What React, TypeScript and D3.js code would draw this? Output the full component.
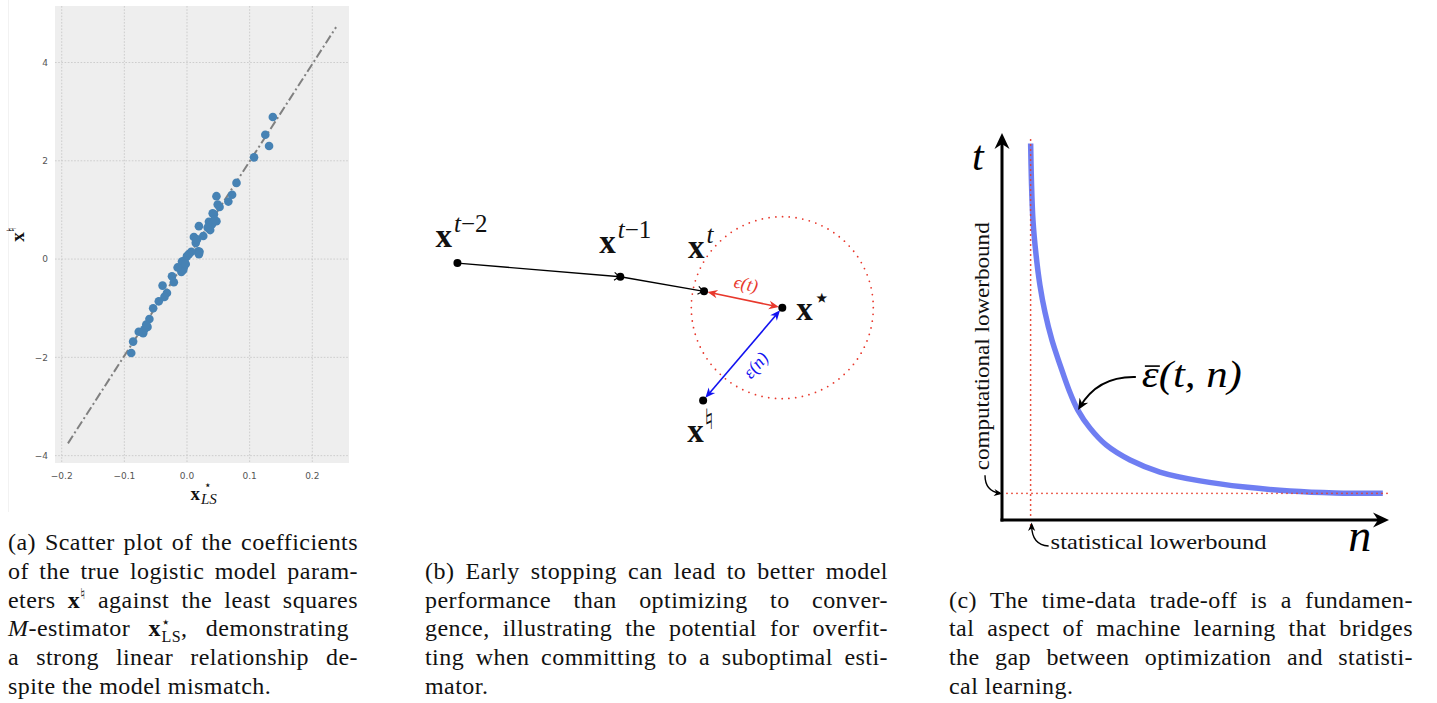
import * as React from "react";
import * as d3 from "d3";

const W = 1437;
const H = 703;
const SERIF = "Liberation Serif";
const SANS = "DejaVu Sans";

// (a) least squares M-estimator coefficient vs true logistic coefficient
const lsCoef = [0.137, 0.125, 0.131, 0.107, 0.079, 0.072, 0.066, 0.047, 0.049, 0.052, 0.043, 0.041, 0.047, 0.035, 0.040, 0.037, 0.019, 0.026, 0.011, 0.014, 0.020, 0.018, 0.019, 0.007, 0.003, 0.000, -0.004, -0.008, -0.005, -0.006, -0.009, -0.015, -0.024, -0.021, -0.039, -0.032, -0.036, -0.045, -0.054, -0.060, -0.063, -0.068, -0.070, -0.077, -0.086, -0.089, 0.033, 0.044, -0.002, -0.065, 0.016];
const trueCoef = [2.89, 2.53, 2.30, 2.07, 1.55, 1.31, 1.17, 1.28, 1.11, 1.06, 0.91, 0.93, 0.77, 0.76, 0.71, 0.59, 0.67, 0.47, 0.45, 0.33, 0.15, 0.16, 0.10, 0.15, 0.10, 0.06, -0.03, -0.05, -0.16, -0.22, -0.26, -0.17, -0.35, -0.47, -0.54, -0.69, -0.77, -0.86, -1.00, -1.22, -1.38, -1.43, -1.51, -1.48, -1.68, -1.91, 0.64, 0.80, -0.10, -1.33, 0.40];
const fitX = [-0.19, 0.238];
const fitY = [-3.75, 4.72];
const xTicksA = [-0.2, -0.1, 0, 0.1, 0.2];
const yTicksA = [-4, -2, 0, 2, 4];

// (b) iterates, in units of the ball radius around x*
const iterSup = ["t−2", "t−1", "t"];
const iterX = [-3.57, -1.78, -0.86];
const iterY = [0.49, 0.34, 0.18];
const naturalPt = [-0.87, -1.02];
const starPt = [0, 0];
const ballRadius = 1;

// (c) time-data trade-off curve
const curveN = [7.4, 7.6, 8.0, 8.8, 9.8, 11.1, 12.9, 15.0, 17.3, 19.6, 22.7, 26.9, 33.1, 40.8, 51.2, 62.8, 74.4, 86.0, 98.4];
const curveT = [97.3, 87.9, 77.5, 68.5, 60.7, 53.7, 46.5, 40.1, 33.6, 28.4, 23.8, 19.4, 15.5, 12.4, 10.1, 8.5, 7.5, 7.0, 6.9];
const statBound = 7.4;
const compBound = 6.9;

type Seg = string | { t: string; w?: "b" | "i"; sh?: number; fs?: number; dx?: number };

const captionA: Seg[][] = [
  ["(a) Scatter plot of the coefficients"],
  ["of the true logistic model param-"],
  ["eters ", { t: "x", w: "b" }, { t: "♮", sh: -9, fs: 15 }, " against the least squares"],
  [{ t: "M", w: "i" }, "-estimator ", { t: "x", w: "b" }, { t: "⋆", sh: -9, fs: 15 }, { t: "LS", sh: 6, fs: 16, dx: -9 }, ", demonstrating"],
  ["a strong linear relationship de-"],
  ["spite the model mismatch."],
];
const captionB: Seg[][] = [
  ["(b) Early stopping can lead to better model"],
  ["performance than optimizing to conver-"],
  ["gence, illustrating the potential for overfit-"],
  ["ting when committing to a suboptimal esti-"],
  ["mator."],
];
const captionC: Seg[][] = [
  ["(c) The time-data trade-off is a fundamen-"],
  ["tal aspect of machine learning that bridges"],
  ["the gap between optimization and statisti-"],
  ["cal learning."],
];

const MathText = React.forwardRef(({ segs, x, y, fs, fill = "#111", family = SERIF, anchor, ls }: any, ref: any) => {
  let cur = 0;
  return (
    <text ref={ref} x={x} y={y} fontSize={fs} fontFamily={family} fill={fill} textAnchor={anchor} letterSpacing={ls} style={{ whiteSpace: "pre" }}>
      {segs.map((s: Seg, i: number) => {
        const o: any = typeof s === "string" ? { t: s } : s;
        const sh = o.sh ?? 0;
        const dy = sh - cur;
        cur = sh;
        return (
          <tspan key={i} dy={dy || undefined} dx={o.dx} fontSize={o.fs}
            fontWeight={o.w === "b" ? "bold" : undefined}
            fontStyle={o.w === "i" ? "italic" : undefined}>{o.t}</tspan>
        );
      })}
    </text>
  );
});

// justified caption: small letter spacing, remaining slack goes to the word gaps
const Caption = ({ lines, x, width, lastBase }: any) => {
  const lh = 28.8;
  const y0 = lastBase - (lines.length - 1) * lh;
  const refs = React.useRef<any[]>([]);
  React.useLayoutEffect(() => {
    refs.current.forEach((el, i) => {
      if (!el || i === lines.length - 1) return;
      el.setAttribute("word-spacing", "0");
      const nat = el.getComputedTextLength();
      const nSp = (el.textContent.match(/ /g) || []).length;
      if (nSp > 0 && nat < width) el.setAttribute("word-spacing", String((width - nat) / nSp));
    });
  }, []);
  return (
    <g>
      {lines.map((l: Seg[], i: number) => (
        <MathText key={i} ref={(el: any) => (refs.current[i] = el)} segs={l} x={x} y={y0 + i * lh} fs={24} ls={0.45} />
      ))}
    </g>
  );
};

const PanelA = () => {
  const x = d3.scaleLinear().domain([-0.2107, 0.2586]).range([55, 349]);
  const y = d3.scaleLinear().domain([-4.15, 5.15]).range([463, 6]);
  const [x0, x1] = x.range();
  const [y0, y1] = y.range();
  const xm = (x0 + x1) / 2;
  const fit = d3.line<number>().x((d) => x(d)).y((d, i) => y(fitY[i]));
  return (
    <g>
      <line x1={8.5} x2={8.5} y1={0} y2={512} stroke="#f2f2f2" />
      <rect x={x0} y={y1} width={x1 - x0} height={y0 - y1} fill="#eeeeee" />
      {xTicksA.map((t) => (
        <line key={"gx" + t} x1={x(t)} x2={x(t)} y1={y1} y2={y0} stroke="#c4c4c4" strokeWidth={0.8} strokeDasharray="1.6,1.6" />
      ))}
      {yTicksA.map((t) => (
        <line key={"gy" + t} x1={x0} x2={x1} y1={y(t)} y2={y(t)} stroke="#c4c4c4" strokeWidth={0.8} strokeDasharray="1.6,1.6" />
      ))}
      {xTicksA.map((t) => (
        <text key={"tx" + t} x={x(t)} y={479} textAnchor="middle" fontSize={9} fontFamily={SANS} fill="#555">
          {(t < 0 ? "−" : "") + d3.format(".1f")(Math.abs(t))}
        </text>
      ))}
      {yTicksA.map((t) => (
        <text key={"ty" + t} x={48} y={y(t) + 3.3} textAnchor="end" fontSize={9} fontFamily={SANS} fill="#555">
          {(t < 0 ? "−" : "") + Math.abs(t)}
        </text>
      ))}
      <path d={fit(fitX) || ""} fill="none" stroke="#808080" strokeWidth={2} strokeDasharray="9,3,2,3" />
      {lsCoef.map((v, i) => (
        <circle key={i} cx={x(v)} cy={y(trueCoef[i])} r={4.3} fill="#4682b4" />
      ))}
      <g transform={`translate(24,${(y0 + y1) / 2}) rotate(-90)`}>
        <MathText segs={[{ t: "x", w: "b" }, { t: "♮", sh: -8, fs: 13 }]} x={0} y={0} fs={19} anchor="middle" />
      </g>
      <text x={xm - 2} y={500} textAnchor="end" fontSize={19} fontWeight="bold" fontFamily={SERIF} fill="#111">x</text>
      <text x={xm + 2} y={489} fontSize={12} fontFamily={SANS} fill="#111">⋆</text>
      <text x={xm - 1} y={504} fontSize={15} fontStyle="italic" fontFamily={SERIF} fill="#111">LS</text>
    </g>
  );
};

const shorten = (a: number[], b: number[], d1: number, d2: number) => {
  const dx = b[0] - a[0];
  const dy = b[1] - a[1];
  const L = Math.hypot(dx, dy);
  return { x1: a[0] + (dx / L) * d1, y1: a[1] + (dy / L) * d1, x2: b[0] - (dx / L) * d2, y2: b[1] - (dy / L) * d2 };
};

const PanelB = () => {
  const bx = d3.scaleLinear().domain([0, 1]).range([782.3, 873.3]);
  const by = d3.scaleLinear().domain([0, 1]).range([307.7, 216.7]);
  const pts = iterX.map((v, i) => [bx(v), by(iterY[i])]);
  const pS = [bx(starPt[0]), by(starPt[1])];
  const pN = [bx(naturalPt[0]), by(naturalPt[1])];
  const pT = pts[2];
  const red = "#e8382c";
  const blue = "#1212f0";
  const r = bx(ballRadius) - bx(0);
  const redL = shorten(pT, pS, 7, 7);
  const blueL = shorten(pS, pN, 7, 7);
  const angR = (Math.atan2(pS[1] - pT[1], pS[0] - pT[0]) * 180) / Math.PI;
  const angB = (Math.atan2(pS[1] - pN[1], pS[0] - pN[0]) * 180) / Math.PI;
  const midR = [(pT[0] + pS[0]) / 2, (pT[1] + pS[1]) / 2];
  const midB = [(pN[0] + pS[0]) / 2, (pN[1] + pS[1]) / 2];
  const offs = [[-22, -16], [-21, -24], [-16, -33]];
  return (
    <g>
      <circle cx={pS[0]} cy={pS[1]} r={r} fill="none" stroke={red} strokeWidth={1.8} strokeDasharray="0,6.8" strokeLinecap="round" />
      {[0, 1].map((i) => (
        <line key={i} x1={pts[i][0]} y1={pts[i][1]} x2={pts[i + 1][0]} y2={pts[i + 1][1]} stroke="#000" strokeWidth={1.3} markerEnd="url(#chev)" />
      ))}
      <line {...redL} stroke={red} strokeWidth={1.6} markerStart="url(#headRed)" markerEnd="url(#headRed)" />
      <line {...blueL} stroke={blue} strokeWidth={1.6} markerStart="url(#headBlue)" markerEnd="url(#headBlue)" />
      {[...pts, pS, pN].map((p, i) => (
        <circle key={"d" + i} cx={p[0]} cy={p[1]} r={4} fill="#000" />
      ))}
      {pts.map((p, i) => (
        <MathText key={"l" + i} x={p[0] + offs[i][0]} y={p[1] + offs[i][1]} fs={33}
          segs={[{ t: "x", w: "b" }, { t: iterSup[i].slice(0, 1), w: "i", sh: -15, fs: 25, dx: 2 }, { t: iterSup[i].slice(1), sh: -15, fs: 25 }]} />
      ))}
      <MathText x={pS[0] + 14} y={pS[1] + 12} fs={33} segs={[{ t: "x", w: "b" }, { t: "⋆", sh: -13, fs: 28 }]} />
      <MathText x={pN[0] - 16} y={pN[1] + 41} fs={33} segs={[{ t: "x", w: "b" }, { t: "♮", sh: -13, fs: 28 }]} />
      <g transform={`translate(${midR[0] + 3},${midR[1] - 16}) rotate(${angR})`}>
        <text textAnchor="middle" dy="0.35em" fontSize={18} fontStyle="italic" fontFamily={SERIF} fill={red}>ϵ(t)</text>
      </g>
      <g transform={`translate(${midB[0] + 12.7},${midB[1] + 10.8}) rotate(${angB})`}>
        <text textAnchor="middle" dy="0.35em" fontSize={18} fontStyle="italic" fontFamily={SERIF} fill={blue}>ε(n)</text>
      </g>
    </g>
  );
};

const PanelC = () => {
  const cx = d3.scaleLinear().domain([0, 100]).range([1002, 1389]);
  const cy = d3.scaleLinear().domain([0, 100]).range([520, 133]);
  const red = "#e8402f";
  const curve = d3.line<number>().x((d) => cx(d)).y((d, i) => cy(curveT[i])).curve(d3.curveCatmullRom.alpha(0.5));
  const target = [cx(curveN[9]), cy(curveT[9])];
  const ox = cx(0);
  const oy = cy(0);
  const hy = cy(compBound);
  const vx = cx(statBound);
  return (
    <g>
      <path d={curve(curveN) || ""} fill="none" stroke="#5b6cf0" strokeOpacity={0.88} strokeWidth={5.5} />
      <line x1={ox} x2={cx(99.6)} y1={hy} y2={hy} stroke={red} strokeWidth={1.8} strokeDasharray="0,5" strokeLinecap="round" />
      <line x1={vx} x2={vx} y1={oy + 5} y2={cy(98.6)} stroke={red} strokeWidth={1.8} strokeDasharray="0,5" strokeLinecap="round" />
      <line x1={ox} x2={ox} y1={oy + 1.5} y2={cy(100) + 8} stroke="#000" strokeWidth={3} markerEnd="url(#axisHead)" />
      <line x1={ox - 1.5} x2={cx(100) - 8} y1={oy} y2={oy} stroke="#000" strokeWidth={3} markerEnd="url(#axisHead)" />
      <text x={ox - 30} y={cy(90.5)} fontSize={42} fontStyle="italic" fontFamily={SERIF} fill="#000">t</text>
      <text x={cx(89.5)} y={oy + 31} fontSize={46} fontStyle="italic" fontFamily={SERIF} fill="#000">n</text>
      <path d={`M${target[0] + 58},${target[1] - 33} Q${target[0] + 20},${target[1] - 34} ${target[0] + 2},${target[1] - 3}`} fill="none" stroke="#000" strokeWidth={2} markerEnd="url(#headBlack)" />
      <text x={target[0] + 64} y={target[1] - 23} fontSize={38} fontStyle="italic" fontFamily={SERIF} fill="#000" textLength={100} lengthAdjust="spacingAndGlyphs">ε(t, n)</text>
      <line x1={target[0] + 67} x2={target[0] + 82} y1={target[1] - 44} y2={target[1] - 44} stroke="#000" strokeWidth={1.6} />
      <g transform={`translate(${ox - 13},${hy - 23}) rotate(-90)`}>
        <text x={0} y={0} fontSize={22} fontFamily={SERIF} fill="#111" textLength={248} lengthAdjust="spacingAndGlyphs">computational lowerbound</text>
      </g>
      <path d={`M${ox - 17},${hy - 18} Q${ox - 17},${hy - 2} ${ox - 2},${hy}`} fill="none" stroke="#000" strokeWidth={1.4} markerEnd="url(#headSmall)" />
      <text x={vx + 20} y={oy + 29} fontSize={22} fontFamily={SERIF} fill="#111" textLength={216} lengthAdjust="spacingAndGlyphs">statistical lowerbound</text>
      <path d={`M${vx + 18},${oy + 26} Q${vx + 1},${oy + 25} ${vx + 1},${oy + 5}`} fill="none" stroke="#000" strokeWidth={1.4} markerEnd="url(#headSmall)" />
    </g>
  );
};

export default function App() {
  return (
    <svg width={W} height={H} viewBox={`0 0 ${W} ${H}`} style={{ position: "absolute", left: 0, top: 0, background: "#fff" }}>
      <defs>
        <marker id="axisHead" viewBox="-17 -9 19 18" refX={-7} refY={0} markerWidth={19} markerHeight={18} markerUnits="userSpaceOnUse" orient="auto">
          <path d="M1,0 L-15,-7.5 L-10,0 L-15,7.5 Z" fill="#000" />
        </marker>
        <marker id="headRed" viewBox="-11 -6 12 12" refX={-3} refY={0} markerWidth={12} markerHeight={12} markerUnits="userSpaceOnUse" orient="auto-start-reverse">
          <path d="M0.5,0 L-9.5,-4.3 L-6.5,0 L-9.5,4.3 Z" fill="#e8382c" />
        </marker>
        <marker id="headBlue" viewBox="-11 -6 12 12" refX={-3} refY={0} markerWidth={12} markerHeight={12} markerUnits="userSpaceOnUse" orient="auto-start-reverse">
          <path d="M0.5,0 L-9.5,-4.3 L-6.5,0 L-9.5,4.3 Z" fill="#1212f0" />
        </marker>
        <marker id="headBlack" viewBox="-13 -7 14 14" refX={-3} refY={0} markerWidth={14} markerHeight={14} markerUnits="userSpaceOnUse" orient="auto">
          <path d="M0.5,0 L-11,-5 L-7.5,0 L-11,5 Z" fill="#000" />
        </marker>
        <marker id="headSmall" viewBox="-10 -5 11 10" refX={-2} refY={0} markerWidth={11} markerHeight={10} markerUnits="userSpaceOnUse" orient="auto">
          <path d="M0.5,0 L-8,-3.6 L-5.5,0 L-8,3.6 Z" fill="#000" />
        </marker>
        <marker id="chev" viewBox="-8 -5 9 10" refX={0} refY={0} markerWidth={9} markerHeight={10} markerUnits="userSpaceOnUse" orient="auto">
          <path d="M-6,-4 Q-2.5,-1 0,0 Q-2.5,1 -6,4" fill="none" stroke="#000" strokeWidth={1.1} />
        </marker>
      </defs>
      <PanelA />
      <PanelB />
      <PanelC />
      <Caption lines={captionA} x={8} width={350} lastBase={694} />
      <Caption lines={captionB} x={425} width={463} lastBase={694} />
      <Caption lines={captionC} x={949} width={464} lastBase={694} />
    </svg>
  );
}
